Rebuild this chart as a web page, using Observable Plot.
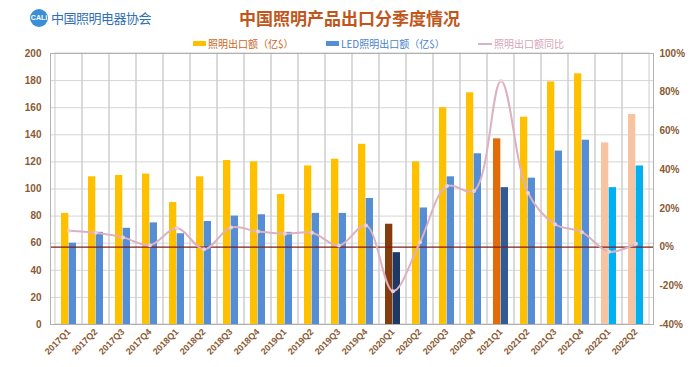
<!DOCTYPE html>
<html><head><meta charset="utf-8">
<script src="https://cdn.jsdelivr.net/npm/d3@7"></script>
<script src="https://cdn.jsdelivr.net/npm/@observablehq/plot@0.6"></script>
<style>
body{margin:0;background:#fff;font-family:"Liberation Sans",Arial,sans-serif;}
#wrap{position:relative;width:691px;height:367px;overflow:hidden;}
#head{position:relative;height:48px;}
.abs{position:absolute;white-space:nowrap;}
#title{left:0;width:691px;top:5px;text-align:center;font:bold 17px "Noto Sans CJK SC",sans-serif;color:#c0561a;padding-left:4px;}
#logo{left:30px;top:8px;display:flex;align-items:center;}
#logo .c{width:18px;height:18px;border-radius:50%;background:#3a8fd8;color:#fff;font:bold 7px "Liberation Sans",sans-serif;display:flex;align-items:center;justify-content:center;}
#logo .t{font:13px "Noto Sans CJK SC",sans-serif;color:#2f6fb8;margin-left:3px;letter-spacing:-0.5px;}
.leg{top:36px;font:10px "Noto Sans CJK SC",sans-serif;display:flex;align-items:center;}
.sw{display:inline-block;width:13px;height:5px;margin-right:2px;}
.ln{display:inline-block;width:14px;height:2px;margin-right:2px;}
</style></head>
<body><div id="wrap">
<div id="head">
  <div id="logo" class="abs"><span class="c">CALi</span><span class="t">中国照明电器协会</span></div>
  <div id="title" class="abs">中国照明产品出口分季度情况</div>
  <div class="abs leg" style="left:193px;color:#c9651c"><span class="sw" style="background:#ffc000"></span>照明出口额（亿$）</div>
  <div class="abs leg" style="left:326px;color:#4a7fc8"><span class="sw" style="background:#558ed5"></span>LED照明出口额（亿$）</div>
  <div class="abs leg" style="left:478px;color:#d7a3b3"><span class="ln" style="background:#dcb1c1"></span>照明出口额同比</div>
</div>
<div id="chart"></div>
</div>
<script>
const quarters = ["2017Q1","2017Q2","2017Q3","2017Q4","2018Q1","2018Q2","2018Q3","2018Q4","2019Q1","2019Q2","2019Q3","2019Q4","2020Q1","2020Q2","2020Q3","2020Q4","2021Q1","2021Q2","2021Q3","2021Q4","2022Q1","2022Q2"];
const lighting = [82,109,110,111,90,109,121,120,96,117,122,133,74,120,160,171,137,153,179,185,134,155];
const led = [60,68,71,75,67,76,80,81,68,82,82,93,53,86,109,126,101,108,128,136,101,117];
const yoy = [8.4,7.4,5,1,9.8,-1.1,10.1,8,6.9,7.4,0.8,11.2,-22.8,2.5,31.5,29,85.8,27.9,11.8,7.7,-2.4,1.7];
const leftTicks = [0,20,40,60,80,100,120,140,160,180,200];
const rightTicks = [-40,-20,0,20,40,60,80,100];

// style maps (highlighted quarters)
const lightColor = q => q === "2020Q1" ? "#843c0c" : q === "2021Q1" ? "#e26b0a" : q.startsWith("2022") ? "#f8c3a0" : "#ffc000";
const ledColor = q => q === "2020Q1" ? "#1f3864" : q === "2021Q1" ? "#305b94" : q.startsWith("2022") ? "#00b0f0" : "#558ed5";

const pctToY = p => (p + 40) * 200 / 140;
const yToPct = v => Math.round(v * 140 / 200 - 40);

const data = quarters.map((q, i) => ({q, lighting: lighting[i], led: led[i], yoy: yoy[i]}));
const brown = "#8a5a33";

const chart = Plot.plot({
  width: 691, height: 319,
  marginLeft: 50, marginRight: 38, marginTop: 5, marginBottom: 43,
  style: {fontFamily: "'Liberation Sans', Arial, sans-serif", fontSize: "10px", background: "#fff"},
  x: {type: "band", domain: quarters, padding: 0, axis: null, label: null},
  y: {domain: [0, 200], axis: null, label: null},
  marks: [
    Plot.ruleY(leftTicks, {stroke: "#d6d6d6"}),
    Plot.barY(quarters, {x: d => d, y1: 0, y2: 200, fill: "none", stroke: "#cdcdcd"}),
    Plot.barY(data, {x: "q", y: "lighting", fill: d => lightColor(d.q), insetLeft: 6, insetRight: 13.7}),
    Plot.barY(data, {x: "q", y: "led", fill: d => ledColor(d.q), insetLeft: 13.7, insetRight: 6}),
    Plot.ruleY([pctToY(0)], {stroke: "#7b1e1e", strokeWidth: 1.2}),
    Plot.line(data, {x: "q", y: d => pctToY(d.yoy), curve: "catmull-rom", stroke: "#dcb1c1", strokeWidth: 2}),
    Plot.dot(data, {x: "q", y: d => pctToY(d.yoy), r: 2, fill: "#ecd0da"}),
    Plot.frame({stroke: "#b0b0b0"}),
    Plot.axisY(leftTicks, {anchor: "left", tickSize: 0, tickPadding: 9, fill: brown, fontWeight: "bold", label: null}),
    Plot.axisY(rightTicks.map(pctToY), {anchor: "right", tickSize: 0, tickPadding: 6, tickFormat: v => yToPct(v) + "%", fill: brown, fontWeight: "bold", label: null}),
    Plot.axisX(quarters, {tickRotate: -45, tickSize: 0, tickPadding: 6, fill: brown, fontWeight: "bold", fontSize: 9, label: null})
  ]
});
document.getElementById("chart").appendChild(chart);
</script>
</body></html>
